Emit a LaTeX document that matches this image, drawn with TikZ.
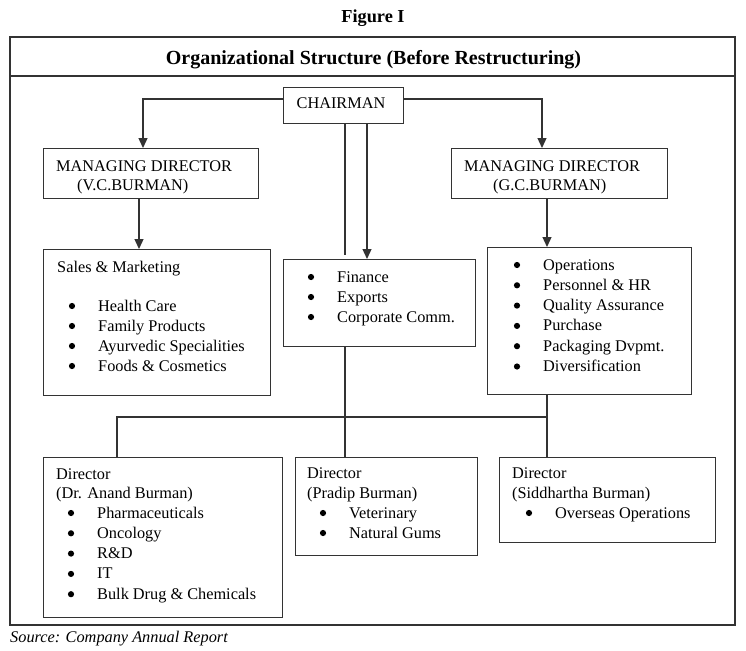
\documentclass[tikz,border=0pt]{standalone}
\usepackage{fontspec}
\setmainfont{Liberation Serif}
\usetikzlibrary{arrows.meta}
\newcommand{\bul}{\hspace{26pt}}
\tikzset{
  box/.style={draw=black!80, line width=1.3pt, fill=white, inner sep=0pt, anchor=north west},
  txt/.style={anchor=base west, inner sep=0pt, font=\fontsize{16.3}{20.3}\selectfont},
  ttl/.style={anchor=base, inner sep=0pt, font=\fontsize{20}{24}\selectfont\bfseries},
  conn/.style={draw=black!80, line width=1.3pt},
  arr/.style={conn, -{Triangle[width=9pt,length=10pt]}},
  dot/.style={fill=black}
}
\newcommand{\dotat}[1]{\fill[dot] ([yshift=5pt]#1.base west) circle (3.1pt);}
\begin{document}
\begin{tikzpicture}[x=1pt,y=-1pt]
\useasboundingbox (0,0) rectangle (746,650);
% frame
\draw[conn] (10,37) rectangle (735,625);
\draw[conn] (10,76) -- (735,76);
\node[ttl, font=\fontsize{18.3}{22}\selectfont\bfseries] (fig) at (373,23) {Figure I};
\node[ttl] (title) at (373.5,65) {Organizational Structure (Before Restructuring)};
% helper coordinates
\coordinate (yt) at (0,99);
\coordinate (yb) at (0,417);
\coordinate (xL) at (143,0);
\coordinate (xR) at (542,0);
\coordinate (xl2) at (139,0);
\coordinate (xr2) at (547,0);
\coordinate (xc1) at (345,0);
\coordinate (xc2) at (367,0);
\coordinate (xa) at (117,0);
% boxes
\node[box, minimum width=120pt, minimum height=36pt] (ch) at (283,87) {};
\node[box, minimum width=215pt, minimum height=50pt] (mdl) at (43,148) {};
\node[box, minimum width=216pt, minimum height=50pt] (mdr) at (451,148) {};
\node[box, minimum width=227pt, minimum height=146pt] (sales) at (43,249) {};
\node[box, minimum width=192pt, minimum height=87pt] (fin) at (283,259) {};
\node[box, minimum width=204pt, minimum height=147pt] (ops) at (487,247) {};
\node[box, minimum width=239pt, minimum height=160pt] (anand) at (43,457) {};
\node[box, minimum width=182pt, minimum height=98pt] (pradip) at (295,457) {};
\node[box, minimum width=216pt, minimum height=85pt] (sidd) at (499,457) {};
% connectors
\draw[arr] (ch.west |- yt) -| (mdl.north -| xL);
\draw[arr] (ch.east |- yt) -| (mdr.north -| xR);
\draw[arr] (mdl.south -| xl2) -- (sales.north -| xl2);
\draw[arr] (mdr.south -| xr2) -- (ops.north -| xr2);
\draw[arr] (ch.south -| xc2) -- (fin.north -| xc2);
\draw[conn, shorten >=4pt] (ch.south -| xc1) -- (fin.north -| xc1);
\draw[conn] (fin.south -| xc1) -- (pradip.north -| xc1);
\draw[conn] (ops.south -| xr2) -- (sidd.north -| xr2);
\draw[conn] (anand.north -| xa) |- (yb -| xr2);
% texts
\node[txt, anchor=base] (tch) at (341,109) {CHAIRMAN};
\node[txt] (tmdl1) at (56,171) {MANAGING DIRECTOR};
\node[txt] (tmdl2) at (77,190) {(V.C.BURMAN)};
\node[txt] (tmdr1) at (464,171) {MANAGING DIRECTOR};
\node[txt] (tmdr2) at (493,190) {(G.C.BURMAN)};
\node[txt] (tsal) at (57,272) {Sales \& Marketing};
\foreach \t [count=\i] in {Health Care, Family Products, Ayurvedic Specialities, Foods \& Cosmetics}
  {\node[txt] (sa\i) at (72,{311+(\i-1)*20}) {\bul\t}; \dotat{sa\i}}
\foreach \t [count=\i] in {Finance, Exports, Corporate Comm.}
  {\node[txt] (fi\i) at (311,{282+(\i-1)*20}) {\bul\t}; \dotat{fi\i}}
\foreach \t [count=\i] in {Operations, Personnel \& HR, Quality Assurance, Purchase, Packaging Dvpmt., Diversification}
  {\node[txt] (op\i) at (517,{270+(\i-1)*20.3}) {\bul\t}; \dotat{op\i}}
\node[txt] (tan1) at (56,479) {Director};
\node[txt] (tan2) at (56,498) {(Dr. Anand Burman)};
\foreach \t [count=\i] in {Pharmaceuticals, Oncology, R\&D, IT, Bulk Drug \& Chemicals}
  {\node[txt] (an\i) at (71,{518+(\i-1)*20.3}) {\bul\t}; \dotat{an\i}}
\node[txt] (tpr1) at (307,478) {Director};
\node[txt] (tpr2) at (307,498) {(Pradip Burman)};
\foreach \t [count=\i] in {Veterinary, Natural Gums}
  {\node[txt] (pr\i) at (323,{518+(\i-1)*20}) {\bul\t}; \dotat{pr\i}}
\node[txt] (tsi1) at (512,478) {Director};
\node[txt] (tsi2) at (512,498) {(Siddhartha Burman)};
\node[txt] (si1) at (529,518) {\bul Overseas Operations};
\dotat{si1}
\node[txt, font=\fontsize{16.3}{20.3}\selectfont\itshape] (src) at (10,642) {Source: Company Annual Report};
\end{tikzpicture}
\end{document}
